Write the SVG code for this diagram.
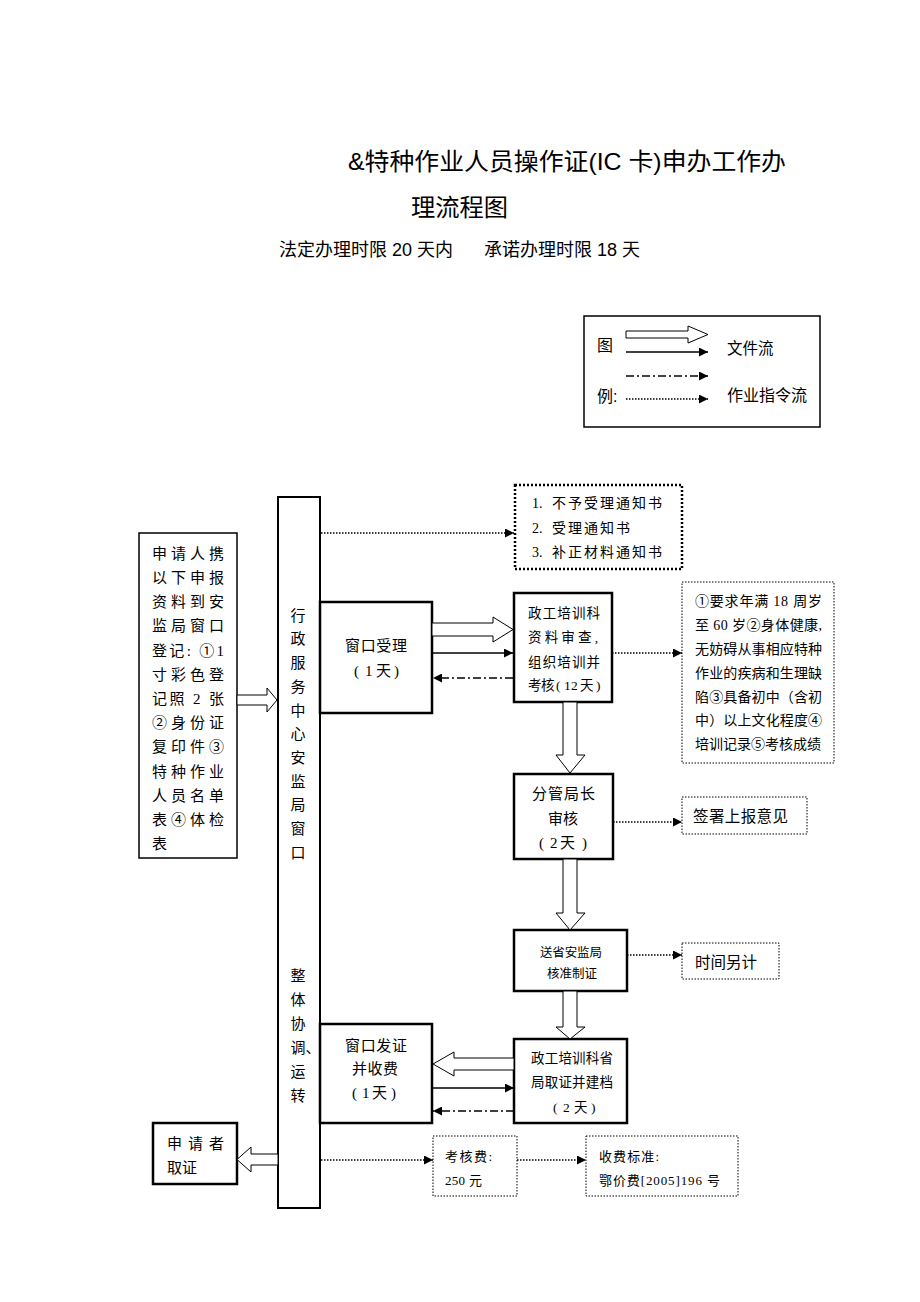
<svg xmlns="http://www.w3.org/2000/svg" width="920" height="1302" viewBox="0 0 920 1302">
<style>
.s{font-family:"Liberation Serif","Noto Sans CJK SC",serif;fill:#000}
.h{font-family:"Liberation Sans","Noto Sans CJK SC",sans-serif;fill:#000}
.box{fill:#fff;stroke:#000;stroke-width:2.5}
.thin{fill:#fff;stroke:#000;stroke-width:1.5}
.dbox{fill:#fff;stroke:#000;stroke-width:1;stroke-dasharray:1.5 1.5}
.dbox2{fill:#fff;stroke:#000;stroke-width:2.5;stroke-dasharray:2 2}
.hollow{fill:#fff;stroke:#000;stroke-width:1}
.solid{stroke:#000;stroke-width:1.3;fill:none}
.dot{stroke:#000;stroke-width:1.5;stroke-dasharray:1.5 1.5;fill:none}
.dd{stroke:#000;stroke-width:1.5;stroke-dasharray:8 3 2 3;fill:none}
</style>
<defs>
<marker id="ah" viewBox="0 0 10 10" refX="10" refY="5" markerWidth="10" markerHeight="9" markerUnits="userSpaceOnUse" orient="auto">
<path d="M0,0 L10,5 L0,10 z" fill="#000"/>
</marker>
</defs>
<rect width="920" height="1302" fill="#fff"/>

<g id="title">
<text class="h" x="348" y="170" font-size="24" textLength="438" lengthAdjust="spacingAndGlyphs">&amp;特种作业人员操作证(IC 卡)申办工作办</text>
<text class="h" x="411" y="216" font-size="24" textLength="97" lengthAdjust="spacingAndGlyphs">理流程图</text>
<text class="h" x="279" y="256" font-size="18" textLength="174" lengthAdjust="spacingAndGlyphs">法定办理时限 20 天内</text>
<text class="h" x="484" y="256" font-size="18" textLength="156" lengthAdjust="spacingAndGlyphs">承诺办理时限 18 天</text>
</g>

<g id="legend">
<rect x="584" y="316" width="236" height="111" fill="#fff" stroke="#000" stroke-width="1.5"/>
<text class="h" x="597" y="351" font-size="16">图</text>
<text class="h" x="597" y="402" font-size="16">例:</text>
<polygon class="hollow" points="626,331 688,331 688,326 708,334.5 688,343 688,338 626,338"/>
<line class="solid" x1="626" y1="352" x2="708" y2="352" marker-end="url(#ah)"/>
<line class="dd" x1="626" y1="376" x2="708" y2="376" marker-end="url(#ah)"/>
<line class="dot" x1="626" y1="399" x2="708" y2="399" marker-end="url(#ah)"/>
<text class="h" x="727" y="354" font-size="15.5">文件流</text>
<text class="h" x="727" y="401" font-size="16">作业指令流</text>
</g>

<g id="applicant-materials">
<rect class="thin" x="139" y="533" width="98" height="325"/>
<text class="s" font-size="15">
<tspan x="152" y="558.7" textLength="72" lengthAdjust="spacing">申请人携</tspan>
<tspan x="152" y="582.9" textLength="72" lengthAdjust="spacing">以下申报</tspan>
<tspan x="152" y="607.1" textLength="72" lengthAdjust="spacing">资料到安</tspan>
<tspan x="152" y="631.3" textLength="72" lengthAdjust="spacing">监局窗口</tspan>
<tspan x="152" y="655.5" textLength="72" lengthAdjust="spacing">登记: ①1</tspan>
<tspan x="152" y="679.7" textLength="72" lengthAdjust="spacing">寸彩色登</tspan>
<tspan x="152" y="703.9" textLength="72" lengthAdjust="spacing">记照 2 张</tspan>
<tspan x="152" y="728.1" textLength="72" lengthAdjust="spacing">②身份证</tspan>
<tspan x="152" y="752.3" textLength="72" lengthAdjust="spacing">复印件③</tspan>
<tspan x="152" y="776.5" textLength="72" lengthAdjust="spacing">特种作业</tspan>
<tspan x="152" y="800.7" textLength="72" lengthAdjust="spacing">人员名单</tspan>
<tspan x="152" y="824.9" textLength="72" lengthAdjust="spacing">表④体检</tspan>
<tspan x="152" y="849.1">表</tspan>
</text>
</g>

<g id="service-center">
<rect x="278" y="497" width="42" height="711" fill="#fff" stroke="#000" stroke-width="2"/>
<text class="s" font-size="15">
<tspan x="290.5" y="620.7">行</tspan>
<tspan x="290.5" y="644.4">政</tspan>
<tspan x="290.5" y="668.1">服</tspan>
<tspan x="290.5" y="691.8">务</tspan>
<tspan x="290.5" y="715.5">中</tspan>
<tspan x="290.5" y="739.2">心</tspan>
<tspan x="290.5" y="762.9">安</tspan>
<tspan x="290.5" y="786.6">监</tspan>
<tspan x="290.5" y="810.3">局</tspan>
<tspan x="290.5" y="834">窗</tspan>
<tspan x="290.5" y="857.7">口</tspan>
<tspan x="290.5" y="980.7">整</tspan>
<tspan x="290.5" y="1004.7">体</tspan>
<tspan x="290.5" y="1028.7">协</tspan>
<tspan x="290.5" y="1052.7">调、</tspan>
<tspan x="290.5" y="1076.7">运</tspan>
<tspan x="290.5" y="1100.7">转</tspan>
</text>
</g>

<g id="notices">
<rect class="dbox2" x="515" y="485" width="167" height="84"/>
<text class="s" font-size="14">
<tspan x="532" y="508.3">1.</tspan><tspan x="552" y="508.3" textLength="110" lengthAdjust="spacing">不予受理通知书</tspan>
<tspan x="532" y="533.3">2.</tspan><tspan x="552" y="533.3" textLength="78" lengthAdjust="spacing">受理通知书</tspan>
<tspan x="532" y="557.3">3.</tspan><tspan x="552" y="557.3" textLength="110" lengthAdjust="spacing">补正材料通知书</tspan>
</text>
</g>

<g id="window-accept">
<rect class="box" x="320" y="602" width="112" height="111"/>
<text class="s" font-size="15">
<tspan x="345" y="650.7" textLength="62" lengthAdjust="spacing">窗口受理</tspan>
<tspan x="354 365 376 394" y="675.7">(1天)</tspan>
</text>
</g>

<g id="training-review">
<rect class="box" x="514" y="593" width="98" height="109"/>
<text class="s" font-size="13.5">
<tspan x="528" y="618" textLength="72" lengthAdjust="spacing">政工培训科</tspan>
<tspan x="528" y="642" textLength="70" lengthAdjust="spacing">资料审查,</tspan>
<tspan x="528" y="667" textLength="72" lengthAdjust="spacing">组织培训并</tspan>
<tspan x="528 541 556 564 571 580 596" y="690">考核(12天)</tspan>
</text>
</g>

<g id="requirements">
<rect class="dbox" x="682" y="582" width="152" height="181"/>
<text class="s" font-size="14">
<tspan x="695" y="606.3" textLength="127" lengthAdjust="spacing">①要求年满 18 周岁</tspan>
<tspan x="695" y="630.1" textLength="127" lengthAdjust="spacing">至 60 岁②身体健康,</tspan>
<tspan x="695" y="653.9" textLength="127" lengthAdjust="spacing">无妨碍从事相应特种</tspan>
<tspan x="695" y="677.7" textLength="127" lengthAdjust="spacing">作业的疾病和生理缺</tspan>
<tspan x="695" y="701.5" textLength="127" lengthAdjust="spacing">陷③具备初中（含初</tspan>
<tspan x="695" y="725.3" textLength="127" lengthAdjust="spacing">中）以上文化程度④</tspan>
<tspan x="695" y="749.1" textLength="126" lengthAdjust="spacing">培训记录⑤考核成绩</tspan>
</text>
</g>

<g id="director-review">
<rect class="box" x="514" y="774" width="99" height="85"/>
<text class="s" font-size="15">
<tspan x="532" y="798.7" textLength="63" lengthAdjust="spacing">分管局长</tspan>
<tspan x="548" y="823.7" textLength="30" lengthAdjust="spacing">审核</tspan>
<tspan x="539 550 560 582" y="847.7">(2天)</tspan>
</text>
</g>

<g id="sign-opinion">
<rect class="dbox" x="682" y="797" width="125" height="37"/>
<text class="s" x="693" y="821.9" font-size="15.5" textLength="95" lengthAdjust="spacing">签署上报意见</text>
</g>

<g id="province-cert">
<rect class="box" x="514" y="930" width="113" height="61"/>
<text class="s" font-size="12.5">
<tspan x="540" y="956.75" textLength="62" lengthAdjust="spacing">送省安监局</tspan>
<tspan x="547" y="977.75" textLength="50" lengthAdjust="spacing">核准制证</tspan>
</text>
</g>

<g id="time-extra">
<rect class="dbox" x="682" y="943" width="97" height="36"/>
<text class="s" x="695" y="967.9" font-size="15.5" textLength="62" lengthAdjust="spacing">时间另计</text>
</g>

<g id="window-issue">
<rect class="box" x="320" y="1024" width="112" height="99"/>
<text class="s" font-size="15">
<tspan x="345" y="1050.7" textLength="62" lengthAdjust="spacing">窗口发证</tspan>
<tspan x="352" y="1073.7" textLength="46" lengthAdjust="spacing">并收费</tspan>
<tspan x="352 362 372 391" y="1097.7">(1天)</tspan>
</text>
</g>

<g id="training-archive">
<rect class="box" x="514" y="1039" width="113" height="84"/>
<text class="s" font-size="13.5">
<tspan x="531" y="1063" textLength="82" lengthAdjust="spacing">政工培训科省</tspan>
<tspan x="531" y="1087" textLength="82" lengthAdjust="spacing">局取证并建档</tspan>
<tspan x="553 563 574 591" y="1112">(2天)</tspan>
</text>
</g>

<g id="applicant-collect">
<rect class="box" x="153" y="1123" width="84" height="61"/>
<text class="s" font-size="15">
<tspan x="167" y="1148.7" textLength="57" lengthAdjust="spacing">申请者</tspan>
<tspan x="167" y="1172.7" textLength="30" lengthAdjust="spacing">取证</tspan>
</text>
</g>

<g id="exam-fee">
<rect class="dbox" x="433" y="1136" width="84" height="60"/>
<text class="s" font-size="13">
<tspan x="445" y="1161" textLength="47" lengthAdjust="spacing">考核费:</tspan>
<tspan x="445" y="1185" textLength="37" lengthAdjust="spacing">250 元</tspan>
</text>
</g>

<g id="fee-standard">
<rect class="dbox" x="586" y="1136" width="152" height="60"/>
<text class="s" font-size="13">
<tspan x="599" y="1161" textLength="60" lengthAdjust="spacing">收费标准:</tspan>
<tspan x="599" y="1185" textLength="121" lengthAdjust="spacing">鄂价费[2005]196 号</tspan>
</text>
</g>

<g id="connectors">
<polygon class="hollow" points="237,695 267,695 267,688 277,700 267,712 267,705 237,705"/>
<polygon class="hollow" points="432,623 493,623 493,617 513,629.5 493,642 493,636 432,636"/>
<polygon class="hollow" points="563,702 577,702 577,755 585,755 570,773 556,755 563,755"/>
<polygon class="hollow" points="563,859 577,859 577,913 585,913 570,930 556,913 563,913"/>
<polygon class="hollow" points="563,991 577,991 577,1027 585,1027 570,1039 556,1027 563,1027"/>
<polygon class="hollow" points="514,1058 454,1058 454,1052 433,1064 454,1076 454,1070 514,1070"/>
<polygon class="hollow" points="278,1154 251,1154 251,1147 237,1159.5 251,1172 251,1165 278,1165"/>
<line class="solid" x1="432" y1="653" x2="513" y2="653" marker-end="url(#ah)"/>
<line class="solid" x1="432" y1="1088" x2="514" y2="1088" marker-end="url(#ah)"/>
<line class="dd" x1="513" y1="678" x2="433" y2="678" marker-end="url(#ah)"/>
<line class="dd" x1="514" y1="1111" x2="433" y2="1111" marker-end="url(#ah)"/>
<line class="dot" x1="321" y1="533" x2="514" y2="533" marker-end="url(#ah)"/>
<line class="dot" x1="612" y1="653" x2="682" y2="653" marker-end="url(#ah)"/>
<line class="dot" x1="613" y1="822" x2="682" y2="822" marker-end="url(#ah)"/>
<line class="dot" x1="627" y1="955" x2="682" y2="955" marker-end="url(#ah)"/>
<line class="dot" x1="321" y1="1160" x2="433" y2="1160" marker-end="url(#ah)"/>
<line class="dot" x1="517" y1="1160" x2="586" y2="1160" marker-end="url(#ah)"/>
</g>
</svg>
